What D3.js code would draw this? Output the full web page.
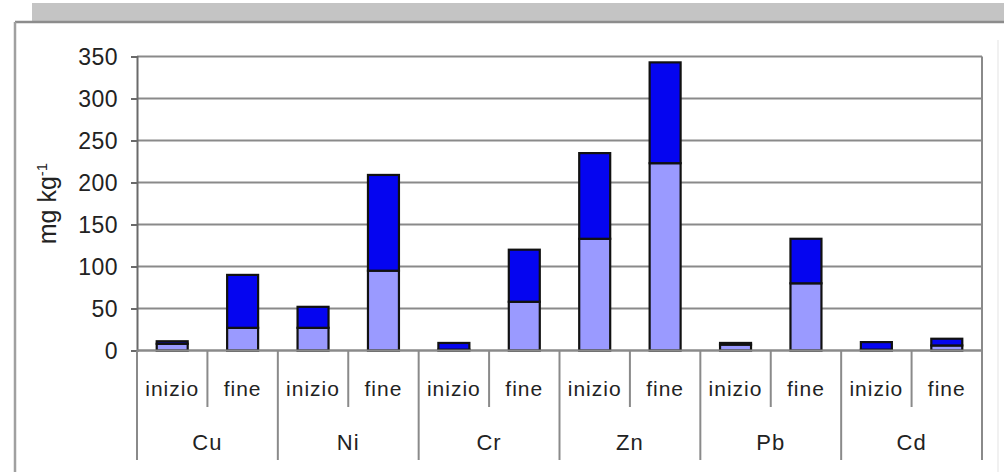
<!DOCTYPE html>
<html>
<head>
<meta charset="utf-8">
<script src="https://cdn.jsdelivr.net/npm/d3@7"></script>
<style>
  body { margin: 0; background: #fff; }
  text { font-family: "Liberation Sans", Arial, sans-serif; fill: #222; }
</style>
</head>
<body>
<svg id="chart" width="1004" height="472"></svg>
<script>
// Metal concentrations (mg/kg) at start ("inizio") and end ("fine"), two stacked fractions
const metals = ["Cu", "Ni", "Cr", "Zn", "Pb", "Cd"];
const phases = ["inizio", "fine"];
const lowerValues = [8, 27, 27, 95, 1, 58, 133, 223, 7, 80, 1, 6];
const upperValues = [3, 63, 25, 114, 8, 62, 102, 120, 2, 53, 9, 8];
const yTicks = [0, 50, 100, 150, 200, 250, 300, 350];

const rows = [];
metals.forEach((m, i) => phases.forEach((p, j) => {
  const k = i * phases.length + j;
  rows.push({ key: m + "|" + p, metal: m, phase: p, lower: lowerValues[k], upper: upperValues[k] });
}));

const svg = d3.select("#chart");
const plot = { left: 137, right: 982, top: 56.5, bottom: 350.5 };
const axisBottom = { phaseEnd: 407, groupEnd: 460 };

// window-like frame around the chart
svg.append("rect").attr("x", 32).attr("y", 3).attr("width", 972).attr("height", 19).attr("fill", "#c4c4c4");
svg.append("line").attr("x1", 15).attr("x2", 1004).attr("y1", 22).attr("y2", 22).attr("stroke", "#8c8c8c").attr("stroke-width", 2.5);
svg.append("line").attr("x1", 15).attr("x2", 15).attr("y1", 22).attr("y2", 472).attr("stroke", "#a0a0a0").attr("stroke-width", 2.5);
svg.append("line").attr("x1", 998).attr("x2", 998).attr("y1", 40).attr("y2", 472).attr("stroke", "#ececec").attr("stroke-width", 1.5);

const x = d3.scaleBand()
  .domain(rows.map(d => d.key))
  .range([plot.left, plot.right])
  .paddingInner(0.56)
  .paddingOuter(0.28);
const step = x.step();

const y = d3.scaleLinear().domain([0, 350]).range([plot.bottom, plot.top]);

// horizontal gridlines
svg.append("g").selectAll("line").data(yTicks).join("line")
  .attr("x1", plot.left).attr("x2", plot.right)
  .attr("y1", d => y(d)).attr("y2", d => y(d))
  .attr("stroke", "#8a8a8a").attr("stroke-width", 2);

// value axis
const yAxis = svg.append("g")
  .attr("transform", `translate(${plot.left},0)`)
  .call(d3.axisLeft(y).tickValues(yTicks).tickSize(6).tickPadding(13));
yAxis.select(".domain").attr("stroke", "#6a6a6a").attr("stroke-width", 2);
yAxis.selectAll(".tick line").attr("stroke", "#6a6a6a").attr("stroke-width", 2);
yAxis.selectAll(".tick text").style("font-size", "23px").style("letter-spacing", "0.5px")
  .attr("fill", "#222").attr("dy", "0.36em");

// right border of the plot, running down through the category rows
svg.append("line").attr("x1", plot.right).attr("x2", plot.right)
  .attr("y1", plot.top).attr("y2", axisBottom.groupEnd)
  .attr("stroke", "#8a8a8a").attr("stroke-width", 2);

// stacked bars
const stack = d3.stack().keys(["lower", "upper"]);
const series = stack(rows);
const colors = { lower: "#9a9aff", upper: "#0505f0" };

svg.append("g").selectAll("g").data(series).join("g")
  .attr("fill", d => colors[d.key])
  .selectAll("rect").data(d => d).join("rect")
  .attr("x", d => x(d.data.key))
  .attr("width", x.bandwidth())
  .attr("y", d => y(d[1]))
  .attr("height", d => y(d[0]) - y(d[1]))
  .attr("stroke", "#111")
  .attr("stroke-width", 2.2);

// category axis baseline
svg.append("line").attr("x1", plot.left).attr("x2", plot.right)
  .attr("y1", plot.bottom).attr("y2", plot.bottom)
  .attr("stroke", "#8a8a8a").attr("stroke-width", 2);

// separators between phases and between metals
const groupW = step * phases.length;
svg.append("g").selectAll("line").data(d3.range(metals.length + 1)).join("line")
  .attr("x1", i => plot.left + i * groupW).attr("x2", i => plot.left + i * groupW)
  .attr("y1", plot.bottom).attr("y2", axisBottom.groupEnd)
  .attr("stroke", "#8a8a8a").attr("stroke-width", 2);
svg.append("g").selectAll("line").data(d3.range(metals.length)).join("line")
  .attr("x1", i => plot.left + i * groupW + step).attr("x2", i => plot.left + i * groupW + step)
  .attr("y1", plot.bottom).attr("y2", axisBottom.phaseEnd)
  .attr("stroke", "#8a8a8a").attr("stroke-width", 2);

// phase labels
svg.append("g").selectAll("text").data(rows).join("text")
  .attr("x", d => x(d.key) + x.bandwidth() / 2)
  .attr("y", 388)
  .attr("dy", "0.36em")
  .attr("text-anchor", "middle")
  .style("font-size", "21px")
  .style("letter-spacing", "1px")
  .text(d => d.phase);

// metal labels
svg.append("g").selectAll("text").data(metals).join("text")
  .attr("x", (d, i) => plot.left + i * groupW + groupW / 2)
  .attr("y", 442)
  .attr("dy", "0.36em")
  .attr("text-anchor", "middle")
  .style("font-size", "22px")
  .style("letter-spacing", "1px")
  .text(d => d);

// value axis title
const title = svg.append("text")
  .attr("transform", `translate(56,${(plot.top + plot.bottom) / 2}) rotate(-90)`)
  .attr("text-anchor", "middle")
  .style("font-size", "25px");
title.append("tspan").text("mg kg");
title.append("tspan").attr("dy", "-0.6em").style("font-size", "15px").text("-1");
</script>
</body>
</html>
